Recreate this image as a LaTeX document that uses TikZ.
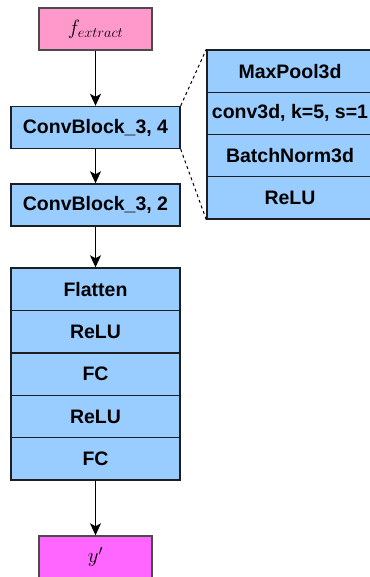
\documentclass[tikz,border=0pt]{standalone}
\usepackage{fontspec}
\setsansfont{Liberation Sans}
\usepackage{amsmath}
\usetikzlibrary{arrows.meta}
\definecolor{blockblue}{RGB}{153,204,255}
\definecolor{inpink}{RGB}{255,153,204}
\definecolor{outpink}{RGB}{255,102,255}
\definecolor{boxline}{RGB}{30,30,30}

\begin{document}
\begin{tikzpicture}[x=1pt,y=-1pt]
\tikzset{layer/.style = {shape=rectangle,draw=boxline,line width=1.4pt,fill=blockblue,
  minimum width=169pt,minimum height=42pt,inner sep=0pt,
  font=\sffamily\bfseries\fontsize{19.5}{22}\selectfont}}
\tikzset{sublayer/.style = {layer,minimum width=166pt,minimum height=42.25pt}}
\tikzset{io/.style = {shape=rectangle,draw=boxline!80,line width=1.4pt,
  minimum width=113pt,minimum height=42pt,inner sep=0pt,font=\fontsize{20}{22}\selectfont}}
\tikzset{flow/.style = {-{Stealth[length=12pt,width=11pt,inset=3pt]},line width=1.4pt}}
\tikzset{zoomline/.style = {dashed,line width=1pt}}
\useasboundingbox (0,0) rectangle (369,577);
% input and output
\node[io,fill=inpink] (fx) at (95.5,29) {$f_{extract}$};
\node[io,fill=outpink] (yp) at (95.5,557) {$y'$};
% conv blocks
\node[layer] (cb4) at (95.5,127.5) {ConvBlock\_3, 4};
\node[layer] (cb2) at (95.5,205) {ConvBlock\_3, 2};
% head
\node[layer,minimum height=42.4pt] (flat) at (95.5,289.2) {Flatten};
\node[layer,minimum height=42.4pt] (relu1) at (95.5,331.6) {ReLU};
\node[layer,minimum height=42.4pt] (fc1) at (95.5,374.0) {FC};
\node[layer,minimum height=42.4pt] (relu2) at (95.5,416.4) {ReLU};
\node[layer,minimum height=42.4pt] (fc2) at (95.5,458.8) {FC};
% inside of a conv block
\node[sublayer] (pool) at (290,71.1) {MaxPool3d};
\node[sublayer] (conv) at (290,113.4) {conv3d, k=5, s=1};
\node[sublayer] (bn) at (290,155.6) {BatchNorm3d};
\node[sublayer] (act) at (290,197.9) {ReLU};
% edges
\draw[flow] (fx) to (cb4);
\draw[flow] (cb4) to (cb2);
\draw[flow] (cb2) to (flat);
\draw[flow] (fc2) to (yp);
\draw[zoomline] (cb4.north east) to (pool.north west);
\draw[zoomline] (cb4.south east) to (act.south west);
\end{tikzpicture}
\end{document}
